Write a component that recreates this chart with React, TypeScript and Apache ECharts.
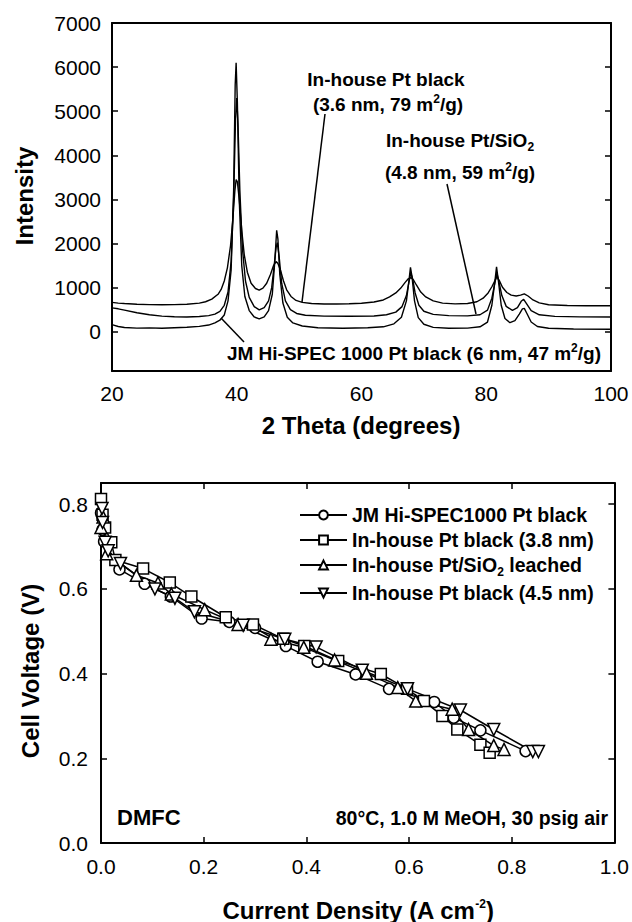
import React, { useEffect, useRef } from "react";
import * as echarts from "echarts";

const FONT = "'Liberation Sans', Arial, Helvetica, sans-serif";

// ---------- XRD (top panel) ----------
const xrdTicksY = [0, 1000, 2000, 3000, 4000, 5000, 6000, 7000];
const xrdTicksX = [20, 40, 60, 80, 100];

// In-house Pt black (3.6 nm) - top trace
const ptBlackX = [20, 21, 22, 24, 26, 28, 30, 32, 34, 35, 36, 37, 37.5, 38, 38.5, 39, 39.4, 39.7, 39.9, 40.1, 40.4, 40.8, 41.2, 41.7, 42.3, 43, 43.6, 44.2, 44.8, 45.4, 45.9, 46.3, 46.6, 47, 47.5, 48, 48.7, 49.5, 50.5, 52, 54, 56, 58, 60, 62, 63.5, 64.5, 65.5, 66.3, 67, 67.5, 67.9, 68.3, 68.8, 69.5, 70.3, 71.5, 73, 75, 77, 78.5, 79.5, 80.3, 80.9, 81.4, 81.7, 82.1, 82.6, 83.3, 84, 84.8, 85.5, 86.1, 86.7, 87.5, 88.5, 90, 93, 96, 100];
const ptBlackY = [665, 650, 640, 625, 615, 612, 615, 625, 650, 680, 740, 850, 960, 1150, 1450, 1950, 2600, 3200, 3450, 3400, 3000, 2300, 1750, 1350, 1100, 980, 945, 990, 1100, 1300, 1500, 1590, 1550, 1400, 1150, 950, 800, 710, 665, 640, 630, 628, 635, 645, 675, 720, 790, 880, 990, 1120, 1200, 1230, 1180, 1060, 900, 790, 700, 650, 632, 640, 680, 760, 880, 1020, 1160, 1250, 1160, 1010, 890, 830, 810, 830, 860, 810, 720, 655, 612, 595, 588, 590];

// In-house Pt/SiO2 (4.8 nm) - middle trace
const ptSiO2X = [20, 21, 22, 24, 26, 28, 30, 32, 34, 35.5, 36.5, 37.3, 38, 38.6, 39.1, 39.5, 39.8, 40, 40.2, 40.5, 40.9, 41.4, 42, 42.8, 43.6, 44.4, 45.1, 45.6, 46, 46.3, 46.5, 46.8, 47.2, 47.8, 48.6, 49.6, 51, 54, 58, 62, 64, 65.5, 66.5, 67.2, 67.6, 67.9, 68.2, 68.6, 69.2, 70, 71.5, 74, 77, 79, 80.2, 80.9, 81.4, 81.7, 82, 82.5, 83.2, 84.2, 85, 85.6, 86, 86.4, 87.2, 88.5, 91, 95, 100];
const ptSiO2Y = [540, 520, 490, 430, 385, 355, 340, 335, 345, 365, 400, 460, 600, 900, 1600, 3000, 4800, 5300, 4700, 3200, 1900, 1150, 780, 570, 495, 545, 700, 1000, 1500, 1900, 2020, 1700, 1100, 700, 500, 415, 375, 355, 350, 358, 385, 445, 570, 820, 1120, 1330, 1200, 880, 600, 465, 395, 365, 360, 385, 490, 760, 1120, 1330, 1160, 820, 575, 485, 545, 690, 735, 650, 480, 385, 348, 338, 335];

// JM Hi-SPEC 1000 Pt black (6 nm) - bottom trace
const jmXrdX = [20, 21, 22, 24, 26, 28, 30, 32, 34, 35.5, 36.5, 37.3, 38, 38.6, 39.1, 39.5, 39.75, 39.9, 40.1, 40.4, 40.8, 41.3, 42, 42.8, 43.6, 44.4, 45.1, 45.7, 46.1, 46.4, 46.6, 46.9, 47.4, 48.1, 49, 50.5, 53, 57, 61, 63.5, 65.2, 66.4, 67.2, 67.6, 67.85, 68.1, 68.5, 69.1, 70, 71.5, 74, 77, 79, 80.2, 80.9, 81.35, 81.65, 81.95, 82.4, 83, 83.8, 84.6, 85.3, 85.8, 86.1, 86.5, 87.2, 88.2, 90, 94, 100];
const jmXrdY = [160, 120, 95, 82, 88, 80, 92, 102, 122, 152, 200, 262, 380, 700, 1400, 3200, 5600, 6100, 5200, 3000, 1500, 800, 480, 335, 292, 335, 480, 850, 1600, 2300, 2100, 1300, 650, 330, 200, 130, 92, 80, 90, 112, 180, 330, 700, 1150, 1460, 1250, 700, 320, 170, 100, 80, 82, 112, 220, 600, 1100, 1470, 1150, 600, 300, 205, 250, 400, 520, 530, 420, 222, 120, 80, 62, 58];

// ---------- DMFC polarization (bottom panel) ----------
const pol1X = [0, 0.003, 0.006, 0.036, 0.085, 0.136, 0.196, 0.25, 0.3, 0.36, 0.422, 0.496, 0.561, 0.649, 0.687, 0.739, 0.827];
const pol1V = [0.78, 0.74, 0.712, 0.646, 0.612, 0.582, 0.53, 0.522, 0.508, 0.465, 0.428, 0.398, 0.364, 0.333, 0.296, 0.266, 0.217];
const pol2X = [0, 0.003, 0.008, 0.02, 0.028, 0.082, 0.134, 0.176, 0.243, 0.296, 0.355, 0.396, 0.462, 0.545, 0.596, 0.629, 0.665, 0.694, 0.739, 0.757];
const pol2V = [0.812, 0.775, 0.745, 0.71, 0.668, 0.648, 0.615, 0.582, 0.533, 0.516, 0.482, 0.465, 0.43, 0.399, 0.364, 0.335, 0.3, 0.268, 0.232, 0.213];
const pol3X = [0, 0.004, 0.011, 0.069, 0.111, 0.137, 0.202, 0.267, 0.331, 0.395, 0.455, 0.517, 0.578, 0.613, 0.684, 0.716, 0.765, 0.785];
const pol3V = [0.745, 0.77, 0.683, 0.632, 0.614, 0.588, 0.551, 0.516, 0.481, 0.462, 0.432, 0.401, 0.367, 0.335, 0.316, 0.268, 0.23, 0.221];
const pol4X = [0.002, 0.003, 0.008, 0.014, 0.038, 0.105, 0.144, 0.182, 0.277, 0.358, 0.419, 0.509, 0.597, 0.7, 0.765, 0.841, 0.852];
const pol4V = [0.79, 0.757, 0.71, 0.69, 0.66, 0.6, 0.578, 0.546, 0.514, 0.481, 0.463, 0.408, 0.364, 0.314, 0.268, 0.216, 0.216];
const polTicksY = [0, 0.2, 0.4, 0.6, 0.8];

const seriesNames = [
  "JM Hi-SPEC1000 Pt black",
  "In-house Pt black (3.8 nm)",
  "In-house Pt/SiO2 leached",
  "In-house Pt black (4.5 nm)",
];

const zip = (xs: number[], ys: number[]) => xs.map((x, i) => [x, ys[i]]);

export default function App() {
  const ref = useRef<HTMLDivElement>(null);
  useEffect(() => {
    if (!ref.current) return;
    const chart = echarts.init(ref.current, undefined, { renderer: "svg" });
    const black = "#000";
    const tickLabel = { fontFamily: FONT, fontSize: 21, color: black };
    const boxLine = { show: true, onZero: false, lineStyle: { color: black, width: 2 } };
    const supRich = {
      sup: { fontSize: 12, fontWeight: "bold", fontFamily: FONT, fill: black, color: black, verticalAlign: "top", lineHeight: 22 },
      sub: { fontSize: 12, fontWeight: "bold", fontFamily: FONT, fill: black, color: black, verticalAlign: "bottom", lineHeight: 22, padding: [0, 0, -2, 0] },
    };
    const txt = (text: string, x: number, y: number, opts: any = {}) => ({
      type: "text",
      x,
      y,
      rotation: opts.rotation || 0,
      style: {
        text,
        fontFamily: FONT,
        fontSize: opts.fontSize || 19,
        fontWeight: opts.fontWeight || "bold",
        fill: black,
        align: opts.align || "center",
        verticalAlign: "middle",
        textAlign: opts.align || "center",
        textVerticalAlign: "middle",
        rich: supRich,
      },
    });
    const ln = (x1: number, y1: number, x2: number, y2: number) => ({
      type: "line",
      shape: { x1, y1, x2, y2 },
      style: { stroke: black, lineWidth: 1.5 },
    });
    const xrdLine = (data: number[][]) => ({
      type: "line",
      xAxisIndex: 0,
      yAxisIndex: 0,
      data,
      showSymbol: false,
      symbol: "none",
      lineStyle: { color: black, width: 1.4 },
      silent: true,
    });
    const polLine = (name: string, data: number[][], symbol: string, size: number) => ({
      type: "line",
      name,
      xAxisIndex: 2,
      yAxisIndex: 2,
      data,
      symbol,
      symbolSize: size,
      showSymbol: true,
      lineStyle: { color: black, width: 1.5 },
      itemStyle: { color: "#fff", borderColor: black, borderWidth: 1.5 },
    });
    const plain = (v: number) => String(v);

    chart.setOption({
      animation: false,
      backgroundColor: "#fff",
      grid: [
        { left: 112, top: 23, width: 499, height: 348 },
        { left: 101, top: 483, width: 515, height: 360 },
      ],
      xAxis: [
        {
          type: "value", gridIndex: 0, min: 20, max: 100, interval: 20,
          axisLine: boxLine, axisTick: { show: false }, splitLine: { show: false },
          axisLabel: { ...tickLabel, margin: 12, customValues: xrdTicksX, formatter: plain },
        },
        {
          type: "value", gridIndex: 0, position: "top", min: 20, max: 100,
          axisLine: boxLine, axisTick: { show: false }, axisLabel: { show: false }, splitLine: { show: false },
        },
        {
          type: "value", gridIndex: 1, min: 0, max: 1, interval: 0.2,
          axisLine: boxLine, splitLine: { show: false },
          axisTick: { inside: true, length: 6, lineStyle: { color: black, width: 1.5 } },
          axisLabel: { ...tickLabel, margin: 13, formatter: (v: number) => v.toFixed(1) },
        },
        {
          type: "value", gridIndex: 1, position: "top", min: 0, max: 1, interval: 0.2,
          axisLine: boxLine, splitLine: { show: false }, axisLabel: { show: false },
          axisTick: { inside: true, length: 6, lineStyle: { color: black, width: 1.5 } },
        },
      ],
      yAxis: [
        {
          type: "value", gridIndex: 0, min: -890, max: 7000,
          axisLine: boxLine, splitLine: { show: false },
          axisTick: { inside: true, length: 6, customValues: xrdTicksY, lineStyle: { color: black, width: 1.5 } },
          axisLabel: { ...tickLabel, margin: 11, customValues: xrdTicksY, formatter: plain },
        },
        {
          type: "value", gridIndex: 0, position: "right", min: -890, max: 7000,
          axisLine: boxLine, splitLine: { show: false }, axisLabel: { show: false },
          axisTick: { inside: true, length: 6, customValues: xrdTicksY, lineStyle: { color: black, width: 1.5 } },
        },
        {
          type: "value", gridIndex: 1, min: 0, max: 0.85,
          axisLine: boxLine, splitLine: { show: false },
          axisTick: { inside: true, length: 6, customValues: polTicksY, lineStyle: { color: black, width: 1.5 } },
          axisLabel: { ...tickLabel, margin: 13, customValues: polTicksY, formatter: (v: number) => v.toFixed(1) },
        },
        {
          type: "value", gridIndex: 1, position: "right", min: 0, max: 0.85,
          axisLine: boxLine, splitLine: { show: false }, axisLabel: { show: false },
          axisTick: { inside: true, length: 6, customValues: polTicksY, lineStyle: { color: black, width: 1.5 } },
        },
      ],
      legend: {
        orient: "vertical",
        left: 294,
        top: 500,
        itemWidth: 47,
        itemHeight: 11,
        itemGap: 5,
        selectedMode: false,
        data: seriesNames,
        formatter: (name: string) => name.replace("SiO2", "SiO{sub|2}"),
        textStyle: {
          fontFamily: FONT, fontSize: 19.5, fontWeight: "bold", color: black, lineHeight: 20,
          rich: {
            sub: { fontFamily: FONT, fontSize: 12, fontWeight: "bold", color: black, verticalAlign: "bottom", lineHeight: 20, padding: [0, 0, -3, 0] },
          },
        },
      },
      series: [
        xrdLine(zip(ptBlackX, ptBlackY)),
        xrdLine(zip(ptSiO2X, ptSiO2Y)),
        xrdLine(zip(jmXrdX, jmXrdY)),
        polLine(seriesNames[0], zip(pol1X, pol1V), "circle", 11),
        polLine(seriesNames[1], zip(pol2X, pol2V), "rect", 11),
        polLine(seriesNames[2], zip(pol3X, pol3V), "triangle", 12),
        polLine(seriesNames[3], zip(pol4X, pol4V), "path://M0,0 L10,0 L5,9 Z", 12),
      ],
      graphic: [
        txt("Intensity", 24, 196, { rotation: Math.PI / 2, fontSize: 24 }),
        txt("2 Theta (degrees)", 361, 425, { fontSize: 24 }),
        txt("In-house Pt black", 386, 79),
        txt("(3.6 nm, 79 m{sup|2}/g)", 388, 104),
        txt("In-house Pt/SiO{sub|2}", 460, 140),
        txt("(4.8 nm, 59 m{sup|2}/g)", 460, 172),
        txt("JM Hi-SPEC 1000 Pt black (6 nm, 47 m{sup|2}/g)", 601, 353, { align: "right" }),
        ln(325, 114, 302, 302),
        ln(447, 184, 476, 314),
        ln(221, 318, 244, 342),
        txt("Cell Voltage (V)", 30, 671, { rotation: Math.PI / 2, fontSize: 24 }),
        txt("Current Density (A cm{sup|-2})", 358, 910, { fontSize: 24 }),
        txt("DMFC", 117, 817, { align: "left", fontSize: 22 }),
        txt("80°C, 1.0 M MeOH, 30 psig air", 608, 818, { align: "right", fontSize: 19.5 }),
      ],
    });
    return () => chart.dispose();
  }, []);
  return <div ref={ref} style={{ position: "fixed", left: 0, top: 0, width: 632, height: 922 }} />;
}
